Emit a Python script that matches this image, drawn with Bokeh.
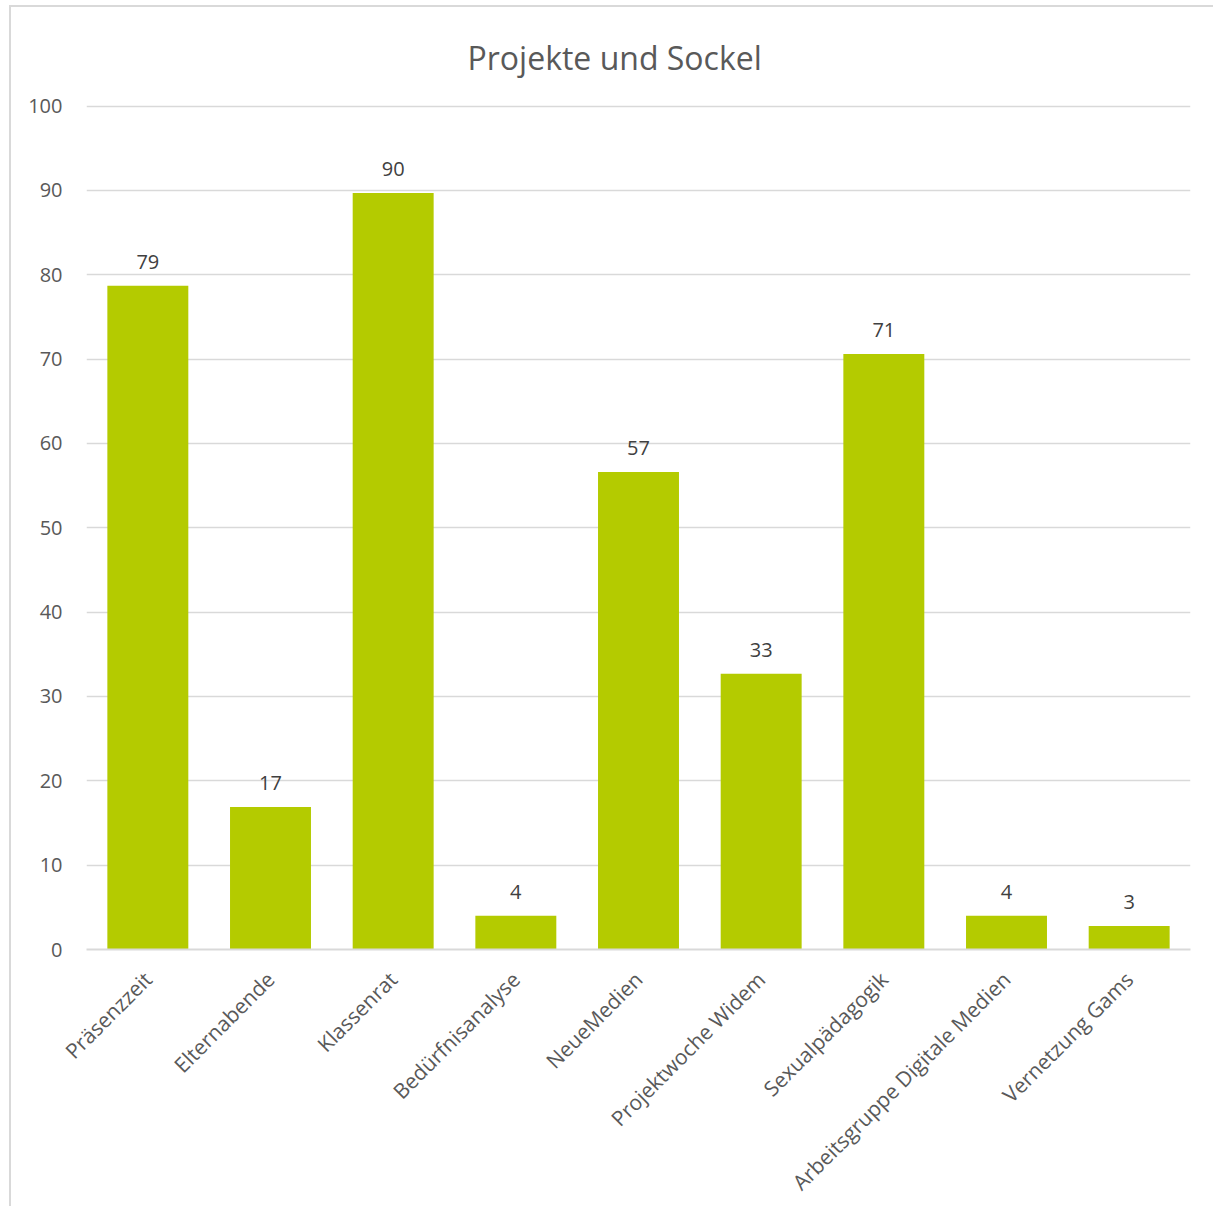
import math
from bokeh.plotting import figure
from bokeh.models import ColumnDataSource, LabelSet, FixedTicker
from bokeh.core.properties import value
from bokeh.embed import file_html
from bokeh.resources import INLINE

title_text = "Projekte und Sockel"
categories = ["Präsenzzeit", "Elternabende", "Klassenrat", "Bedürfnisanalyse", "NeueMedien",
              "Projektwoche Widem", "Sexualpädagogik", "Arbeitsgruppe Digitale Medien", "Vernetzung Gams"]
values = [78.7, 16.9, 89.7, 4.0, 56.6, 32.7, 70.6, 4.0, 2.8]
y_ticks = [0, 10, 20, 30, 40, 50, 60, 70, 80, 90, 100]

src = ColumnDataSource(dict(cat=categories, val=values, lbl=[f"{v:.0f}" for v in values]))

FONT = "Open Sans"
p = figure(x_range=categories, y_range=(0, 100.3), width=1204, height=1201,
           output_backend="svg", toolbar_location=None,
           min_border_left=75, min_border_right=25, min_border_top=96, min_border_bottom=257,
           title=title_text)
p.styles = {"border-top": "2px solid #d9d9d9", "border-left": "2px solid #d9d9d9",
            "margin-left": "9px", "margin-top": "5px"}
p.title.align = "left"
p.title.offset = 381
p.title.text_font = FONT
p.title.text_font_size = "32px"
p.title.text_font_style = "normal"
p.title.text_color = "#595959"
p.title.standoff = 50

p.vbar(x="cat", top="val", width=0.66, source=src, color="#b4cb00", line_color=None)

labels = LabelSet(x="cat", y="val", text="lbl", source=src, text_align="center",
                  text_baseline="bottom", y_offset=17, text_font=value(FONT),
                  text_font_size="20px", text_color="#404040")
p.add_layout(labels)

p.outline_line_color = None
p.xgrid.grid_line_color = None
p.ygrid.grid_line_color = "#d9d9d9"
p.ygrid.grid_line_width = 1.5
p.yaxis.ticker = FixedTicker(ticks=y_ticks)
p.yaxis.axis_line_color = None
p.yaxis.major_tick_line_color = None
p.yaxis.minor_tick_line_color = None
p.yaxis.major_label_text_font = FONT
p.yaxis.major_label_text_font_size = "20px"
p.yaxis.major_label_text_color = "#595959"
p.yaxis.major_label_standoff = 18

p.xaxis.axis_line_color = "#d9d9d9"
p.xaxis.axis_line_width = 2
p.xaxis.major_tick_line_color = None
p.xaxis.minor_tick_line_color = None
p.xaxis.major_label_orientation = math.pi / 4
p.xaxis.major_label_text_font = FONT
p.xaxis.major_label_text_font_size = "21px"
p.xaxis.major_label_text_color = "#595959"
p.xaxis.major_label_standoff = 20
p.x_range.range_padding = 0

open("out.html", "w").write(file_html(p, INLINE))
